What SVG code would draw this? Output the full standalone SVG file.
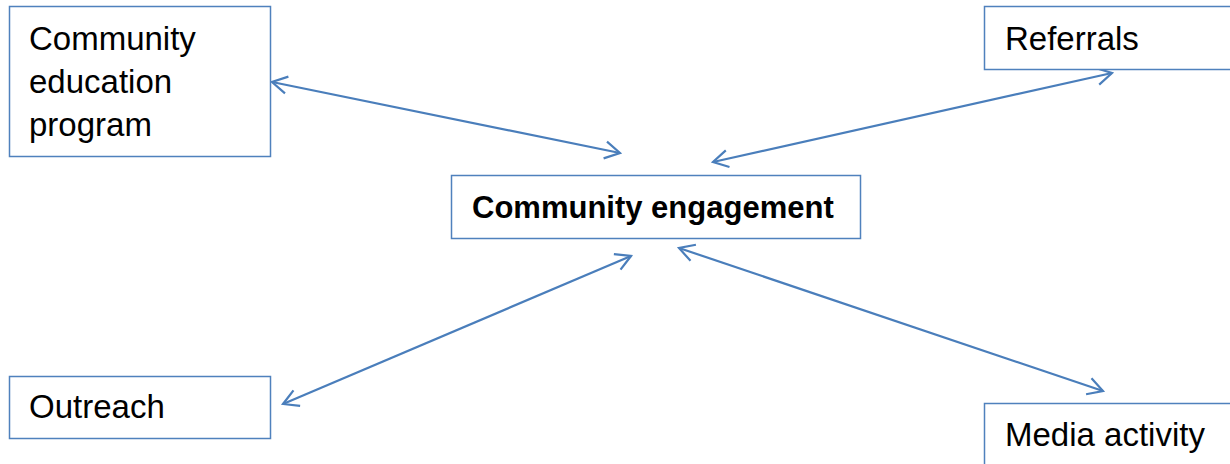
<svg xmlns="http://www.w3.org/2000/svg" width="1230" height="464" viewBox="0 0 1230 464">
  <style>
    .box { fill: #ffffff; stroke: #4f81bd; stroke-width: 1.5; }
    .lbl { font-family: "Liberation Sans", Arial, sans-serif; font-size: 33px; fill: #000000; }
    .bold { font-weight: bold; font-size: 31px; }
    .conn { stroke: #4a7ebb; stroke-width: 2.2; fill: none; marker-start: url(#arr); marker-end: url(#arr); }
  </style>
  <defs>
    <marker id="arr" viewBox="0 0 20 20" refX="18" refY="10" markerWidth="20" markerHeight="20" markerUnits="userSpaceOnUse" orient="auto-start-reverse">
      <path d="M3,1.5 L18,10 L3,18.5" fill="none" stroke="#4a7ebb" stroke-width="2.2"/>
    </marker>
  </defs>
  <rect width="1230" height="464" fill="#ffffff"/>
  <g id="connectors">
    <line class="conn" x1="272" y1="82" x2="620" y2="153"/>
    <line class="conn" x1="1112" y1="73" x2="713" y2="162"/>
    <line class="conn" x1="631" y1="256" x2="283" y2="404"/>
    <line class="conn" x1="679" y1="248" x2="1103" y2="391"/>
  </g>
  <g id="node-education">
    <rect class="box" x="9.5" y="6.5" width="261" height="150"/>
    <text class="lbl" x="29" y="50">Community</text>
    <text class="lbl" x="29" y="93">education</text>
    <text class="lbl" x="29" y="136">program</text>
  </g>
  <g id="node-referrals">
    <rect class="box" x="984.5" y="6.5" width="260" height="63"/>
    <text class="lbl" x="1005" y="50">Referrals</text>
  </g>
  <g id="node-engagement">
    <rect class="box" x="451.5" y="175.5" width="409" height="63"/>
    <text class="lbl bold" x="472" y="218">Community engagement</text>
  </g>
  <g id="node-outreach">
    <rect class="box" x="9.5" y="376.5" width="261" height="62"/>
    <text class="lbl" x="29" y="418">Outreach</text>
  </g>
  <g id="node-media">
    <rect class="box" x="984.5" y="403.5" width="260" height="70"/>
    <text class="lbl" x="1005" y="446">Media activity</text>
  </g>
</svg>
